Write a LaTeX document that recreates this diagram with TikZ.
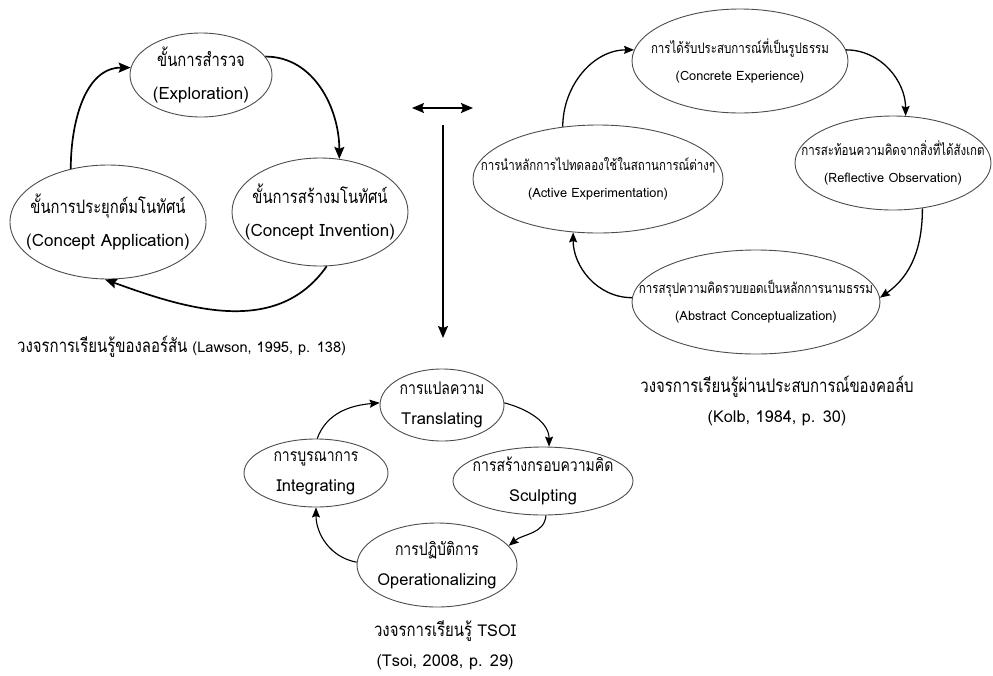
\documentclass[tikz,border=0pt]{standalone}
\usepackage{fontspec}
\setmainfont[Script=Thai]{Loma}
\newfontfamily\thaicond[Script=Thai,FakeStretch=0.8]{Loma}
\usetikzlibrary{shapes.geometric,arrows.meta}

% text sizes: Thai line / Latin line of each cycle
\newcommand\lawTh{\thaicond\fontsize{18.5}{33}\selectfont}
\newcommand\lawLa{\rmfamily\fontsize{17}{33}\selectfont}
\newcommand\kolTh{\thaicond\fontsize{14.4}{27}\selectfont}
\newcommand\kolLa{\rmfamily\fontsize{12.8}{27}\selectfont}
\newcommand\tsoTh{\thaicond\fontsize{17.5}{30}\selectfont}
\newcommand\tsoLa{\rmfamily\fontsize{16.5}{30}\selectfont}
\newcommand\capTh{\thaicond\fontsize{18.7}{30}\selectfont}
\newcommand\capLa{\rmfamily\fontsize{16.3}{30}\selectfont}
\newcommand\capLaS{\rmfamily\fontsize{14.6}{30}\selectfont}

\tikzset{
  stage/.style={ellipse, draw=black!70, line width=0.9pt, inner sep=0pt},
  label/.style={align=center, inner sep=0pt},
  bighead/.tip={Stealth[length=12pt,width=10pt,inset=2pt]},
  smallhead/.tip={Stealth[length=10pt,width=8pt,inset=1.5pt]},
  bigflow/.style={line width=1.7pt, -bighead},
  midflow/.style={line width=1.3pt, -smallhead},
  smallflow/.style={line width=1.1pt, -smallhead},
}

\begin{document}
\begin{tikzpicture}[x=1pt,y=-1pt]
\useasboundingbox (0,0) rectangle (993,675);

% ---------- Lawson learning cycle ----------
\node[stage, minimum width=142pt, minimum height=84pt] (exp) at (201,75) {};
\node[stage, minimum width=176pt, minimum height=108pt] (inv) at (320,212) {};
\node[stage, minimum width=196pt, minimum height=114pt] (app) at (108,222) {};
\node[label, font=\lawTh] (exp-t) at (exp) {\lawTh ขั้นการสำรวจ\\\lawLa (Exploration)};
\node[label, font=\lawTh] (inv-t) at (inv) {\lawTh ขั้นการสร้างมโนทัศน์\\\lawLa (Concept Invention)};
\node[label, font=\lawTh] (app-t) at (app) {\lawTh ขั้นการประยุกต์มโนทัศน์\\\lawLa (Concept Application)};

\draw[bigflow] (app.125) to[out=90,in=180] (exp.174);
\draw[bigflow] (exp.16) to[out=0,in=90] (inv.70);
\draw[bigflow] (inv.-83) to[out=235,in=-20] (app.-93);

\node[label, anchor=west] (lawcap) at (17,347)
  {\capTh วงจรการเรียนรู้ของลอร์สัน \capLaS (Lawson, 1995, p. 138)};

% ---------- arrows between the cycles ----------
\coordinate (hl) at (412,108);
\coordinate (hr) at (473,108);
\coordinate (vt) at (443,125);
\coordinate (vb) at (443,338);
\draw[line width=1.4pt, bighead-bighead] (hl) -- (hr);
\draw[line width=1.4pt, -bighead] (vt) -- (vb);

% ---------- Kolb experiential learning cycle ----------
\node[stage, minimum width=216pt, minimum height=104pt] (ce) at (740,61) {};
\node[stage, minimum width=196pt, minimum height=94pt] (ro) at (893,163) {};
\node[stage, minimum width=250pt, minimum height=108pt] (ae) at (598,179) {};
\node[stage, minimum width=248pt, minimum height=104pt] (ac) at (756,302) {};
\node[label, font=\kolTh] (ce-t) at (ce) {\kolTh การได้รับประสบการณ์ที่เป็นรูปธรรม\\\kolLa (Concrete Experience)};
\node[label, font=\kolTh] (ro-t) at (ro) {\kolTh การสะท้อนความคิดจากสิ่งที่ได้สังเกต\\\kolLa (Reflective Observation)};
\node[label, font=\kolTh] (ae-t) at (ae) {\kolTh การนำหลักการไปทดลองใช้ในสถานการณ์ต่างๆ\\\kolLa (Active Experimentation)};
\node[label, font=\kolTh] (ac-t) at (ac) {\kolTh การสรุปความคิดรวบยอดเป็นหลักการนามธรรม\\\kolLa (Abstract Conceptualization)};

\draw[midflow] (ae.124) to[out=90,in=180] (ce.174);
\draw[midflow] (ce.6) to[out=0,in=90] (ro.75);
\draw[midflow] (ro.-57) to[out=-90,in=35] (ac.2);
\draw[midflow] (ac.178) to[out=180,in=-90] (ae.-115);

\node[label, font=\capTh] (kolbcap) at (777,401)
  {\capTh วงจรการเรียนรู้ผ่านประสบการณ์ของคอล์บ\\\capLa (Kolb, 1984, p. 30)};

% ---------- TSOI learning cycle ----------
\node[stage, minimum width=124pt, minimum height=72pt] (tr) at (442,405) {};
\node[stage, minimum width=144pt, minimum height=68pt] (ig) at (316,473) {};
\node[stage, minimum width=180pt, minimum height=68pt] (sc) at (543,481) {};
\node[stage, minimum width=160pt, minimum height=84pt] (op) at (437,565) {};
\node[label, font=\tsoTh] (tr-t) at (tr) {\tsoTh การแปลความ\\\tsoLa Translating};
\node[label, font=\tsoTh] (ig-t) at (ig) {\tsoTh การบูรณาการ\\\tsoLa Integrating};
\node[label, font=\tsoTh] (sc-t) at (sc) {\tsoTh การสร้างกรอบความคิด\\\tsoLa Sculpting};
\node[label, font=\tsoTh] (op-t) at (op) {\tsoTh การปฏิบัติการ\\\tsoLa Operationalizing};

\draw[smallflow] (ig.88) to[out=70,in=185] (tr.178);
\draw[smallflow] (tr.2) to[out=-15,in=90] (sc.80);
\draw[smallflow] (sc.-85) to[out=-95,in=40] (op.15);
\draw[smallflow] (op.178) to[out=170,in=-90] (ig.-90);

\node[label, font=\capTh] (tsoicap) at (445,645)
  {\capTh วงจรการเรียนรู้ \capLa TSOI\\\capLa (Tsoi, 2008, p. 29)};
\end{tikzpicture}
\end{document}
